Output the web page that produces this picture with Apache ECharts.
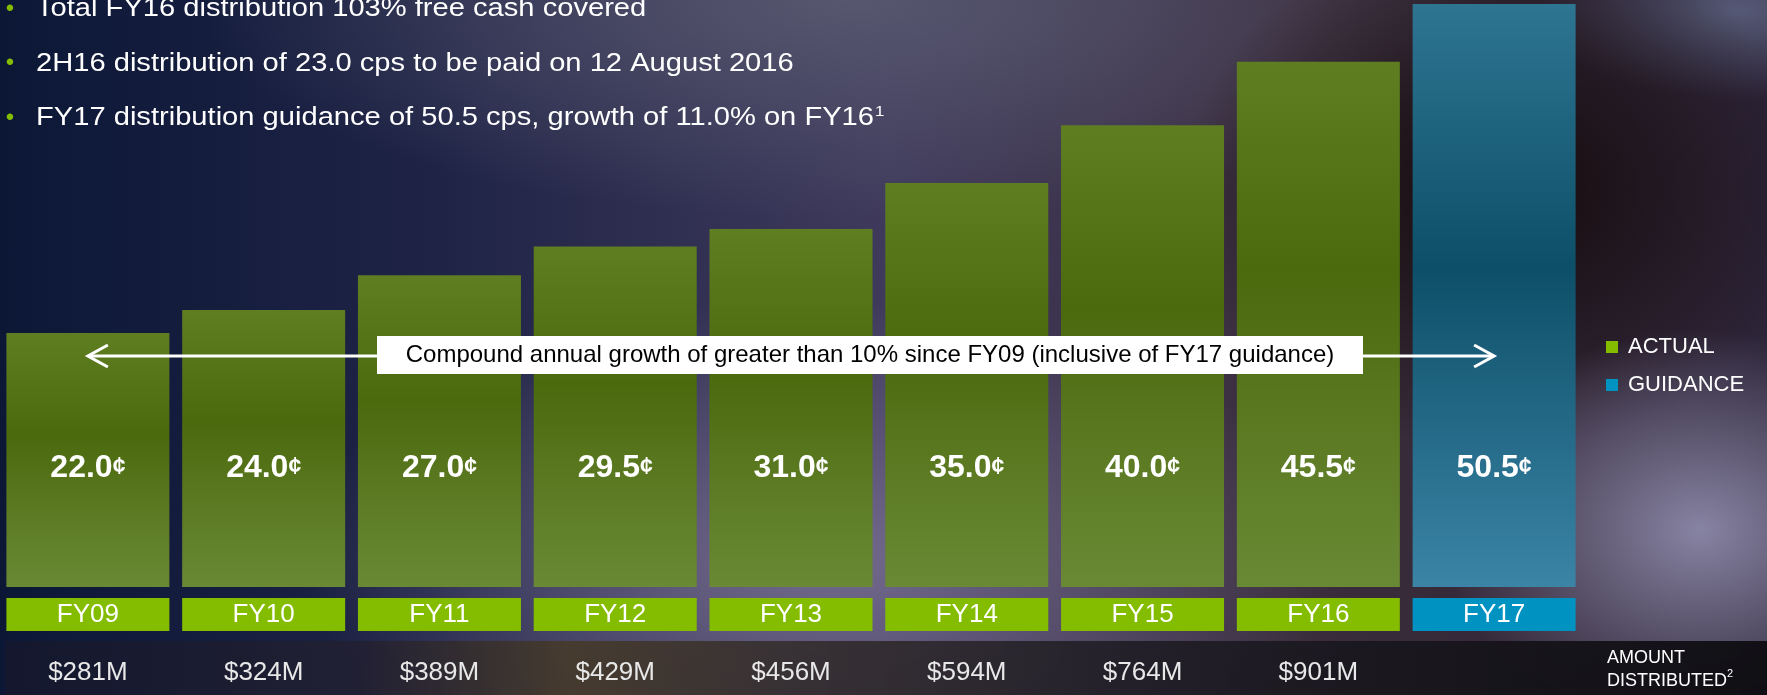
<!DOCTYPE html>
<html>
<head>
<meta charset="utf-8">
<script src="https://cdn.jsdelivr.net/npm/echarts@6/dist/echarts.min.js"></script>
<style>
  html, body { margin: 0; padding: 0; }
  #chart {
    width: 1767px;
    height: 695px;
    background:
      radial-gradient(ellipse 260px 200px at 1700px 530px, rgba(140,136,168,0.95), rgba(140,136,168,0)),
      radial-gradient(ellipse 320px 260px at 1500px 190px, rgba(18,8,8,0.95), rgba(18,8,8,0)),
      radial-gradient(ellipse 200px 90px at 1740px 10px, rgba(90,95,125,0.9), rgba(90,95,125,0)),
      radial-gradient(ellipse 520px 260px at 820px 560px, rgba(125,115,150,0.85), rgba(125,115,150,0)),
      radial-gradient(ellipse 650px 220px at 850px 0px, rgba(88,88,112,0.95), rgba(88,88,112,0)),
      linear-gradient(90deg, #0c1736 0%, #1f2446 25%, #3f3a5c 50%, #3a2c3a 75%, #2c2438 100%);
  }
</style>
</head>
<body>
<div id="chart"></div>
<script>
// 数据
var years = ['FY09', 'FY10', 'FY11', 'FY12', 'FY13', 'FY14', 'FY15', 'FY16', 'FY17'];
var actual = [22.0, 24.0, 27.0, 29.5, 31.0, 35.0, 40.0, 45.5];
var guidance = [50.5];
var amounts = ['$281M', '$324M', '$389M', '$429M', '$456M', '$594M', '$764M', '$901M'];
var bullets = [
  'Total FY16 distribution 103% free cash covered',
  '2H16 distribution of 23.0 cps to be paid on 12 August 2016',
  'FY17 distribution guidance of 50.5 cps, growth of 11.0% on FY16'
];
var growthNote = 'Compound annual growth of greater than 10% since FY09 (inclusive of FY17 guidance)';

var FONT = '"Liberation Sans", Arial, sans-serif';
var GREEN = '#84bd00';
var BLUE = '#0093c2';

// 实际值与指引值放在同一个类目位置上
var actualData = years.map(function (y, i) { return i < actual.length ? actual[i] : '-'; });
var guidanceData = years.map(function (y, i) { return i >= actual.length ? guidance[i - actual.length] : '-'; });

var valueLabel = {
  show: true,
  position: 'insideBottom',
  distance: 101,
  formatter: function (p) { return '{n|' + p.value.toFixed(1) + '}{c|¢}'; },
  rich: {
    n: { fontFamily: FONT, fontSize: 32, fontWeight: 'bold', color: '#fff', lineHeight: 36 },
    c: { fontFamily: FONT, fontSize: 23, fontWeight: 'bold', color: '#fff', lineHeight: 36 }
  }
};

var chart = echarts.init(document.getElementById('chart'));

var option = {
  backgroundColor: 'transparent',
  animation: false,
  legend: {
    orient: 'vertical',
    left: 1601,
    top: 331,
    icon: 'rect',
    itemWidth: 12,
    itemHeight: 12,
    itemGap: 16,
    selectedMode: false,
    textStyle: { color: '#fff', fontSize: 22, fontFamily: FONT, padding: [0, 0, 0, 5] },
    data: [
      { name: 'ACTUAL', itemStyle: { color: GREEN } },
      { name: 'GUIDANCE', itemStyle: { color: BLUE } }
    ]
  },
  grid: { left: -2, top: 4, width: 1584, bottom: 108 },
  xAxis: [
    {
      type: 'category',
      position: 'bottom',
      data: years,
      axisLine: { show: false },
      axisTick: { show: false },
      axisLabel: {
        interval: 0,
        margin: 11,
        formatter: function (v, i) { return (i < actual.length ? '{a|' : '{g|') + v + '}'; },
        rich: {
          a: { width: 163, height: 33, lineHeight: 33, align: 'center', backgroundColor: GREEN,
               color: '#fff', fontSize: 26, fontFamily: FONT },
          g: { width: 163, height: 33, lineHeight: 33, align: 'center', backgroundColor: BLUE,
               color: '#fff', fontSize: 26, fontFamily: FONT }
        }
      }
    },
    {
      type: 'category',
      position: 'bottom',
      data: years,
      axisLine: { show: false },
      axisTick: { show: false },
      axisLabel: {
        interval: 0,
        margin: 71,
        lineHeight: 30,
        color: '#e8e8e8',
        fontSize: 26,
        fontFamily: FONT,
        formatter: function (v, i) { return amounts[i] || ''; }
      }
    }
  ],
  yAxis: { type: 'value', min: 0, max: 50.5, show: false, splitLine: { show: false } },
  series: [
    {
      name: 'ACTUAL',
      type: 'bar',
      barWidth: 163,
      barGap: '-100%',
      data: actualData,
      itemStyle: {
        color: new echarts.graphic.LinearGradient(0, 0, 0, 1, [
          { offset: 0, color: '#5f7e21' },
          { offset: 0.4, color: '#4b6a0e' },
          { offset: 1, color: '#6a8935' }
        ])
      },
      label: valueLabel
    },
    {
      name: 'GUIDANCE',
      type: 'bar',
      barWidth: 163,
      barGap: '-100%',
      data: guidanceData,
      itemStyle: {
        color: new echarts.graphic.LinearGradient(0, 0, 0, 1, [
          { offset: 0, color: '#2e7592' },
          { offset: 0.45, color: '#0d4f68' },
          { offset: 1, color: '#3b84a6' }
        ])
      },
      label: valueLabel
    }
  ]
};

chart.setOption(option);

// 箭头两端对齐 FY09 与 FY17 的中心
var leftTip = chart.convertToPixel({ xAxisIndex: 0 }, years[0]);
var rightTip = chart.convertToPixel({ xAxisIndex: 0 }, years[years.length - 1]);
var arrowY = 356;

// 顶部的要点文字（原稿字体横向略宽）
var bulletY = [9, 63.5, 118];
var bulletGraphics = [];
bullets.forEach(function (t, i) {
  bulletGraphics.push({
    type: 'text', silent: true, x: 10, y: bulletY[i],
    style: { text: '•', fill: GREEN, font: '24px ' + FONT, align: 'center', verticalAlign: 'middle' }
  });
  bulletGraphics.push({
    type: 'text', silent: true, x: 36, y: bulletY[i], scaleX: 1.12,
    style: {
      text: '{t|' + t + '}' + (i === bullets.length - 1 ? '{s|1}' : ''),
      verticalAlign: 'middle',
      rich: {
        t: { fill: '#fff', fontSize: 26, fontFamily: FONT, lineHeight: 30 },
        s: { fill: '#fff', fontSize: 15, fontFamily: FONT, lineHeight: 16, padding: [0, 0, 12, 1] }
      }
    }
  });
});

chart.setOption({
  graphic: bulletGraphics.concat([
    {
      type: 'rect', z: -1, silent: true,
      shape: { x: 5, y: 641, width: 1762, height: 54 },
      style: {
        fill: new echarts.graphic.LinearGradient(0, 0, 1, 0, [
          { offset: 0, color: 'rgba(20,24,46,0.92)' },
          { offset: 0.2, color: 'rgba(34,32,50,0.9)' },
          { offset: 0.32, color: 'rgba(70,58,40,0.88)' },
          { offset: 0.45, color: 'rgba(50,44,44,0.88)' },
          { offset: 0.65, color: 'rgba(30,28,36,0.9)' },
          { offset: 1, color: 'rgba(14,13,17,0.95)' }
        ])
      }
    },
    {
      type: 'line', z: 5, silent: true,
      shape: { x1: leftTip, y1: arrowY, x2: rightTip, y2: arrowY },
      style: { stroke: '#fff', lineWidth: 3 }
    },
    {
      type: 'polyline', z: 5, silent: true,
      shape: { points: [[leftTip + 20, arrowY - 11], [leftTip, arrowY], [leftTip + 20, arrowY + 11]] },
      style: { stroke: '#fff', lineWidth: 3, fill: null }
    },
    {
      type: 'polyline', z: 5, silent: true,
      shape: { points: [[rightTip - 20, arrowY - 11], [rightTip, arrowY], [rightTip - 20, arrowY + 11]] },
      style: { stroke: '#fff', lineWidth: 3, fill: null }
    },
    {
      type: 'rect', z: 10, silent: true,
      shape: { x: 377, y: 336, width: 986, height: 38 },
      style: { fill: '#fff' }
    },
    {
      type: 'text', z: 11, silent: true,
      x: 870, y: 355,
      style: {
        text: growthNote, fill: '#000', font: '24px ' + FONT,
        align: 'center', verticalAlign: 'middle'
      }
    },
    {
      type: 'text', z: 11, silent: true,
      x: 1607, y: 648,
      style: {
        text: '{t|AMOUNT}\n{t|DISTRIBUTED}{s|2}',
        rich: {
          t: { fill: '#fff', fontSize: 18, fontFamily: FONT, lineHeight: 20 },
          s: { fill: '#fff', fontSize: 11, fontFamily: FONT, lineHeight: 26, verticalAlign: 'top' }
        }
      }
    }
  ])
});
</script>
</body>
</html>
